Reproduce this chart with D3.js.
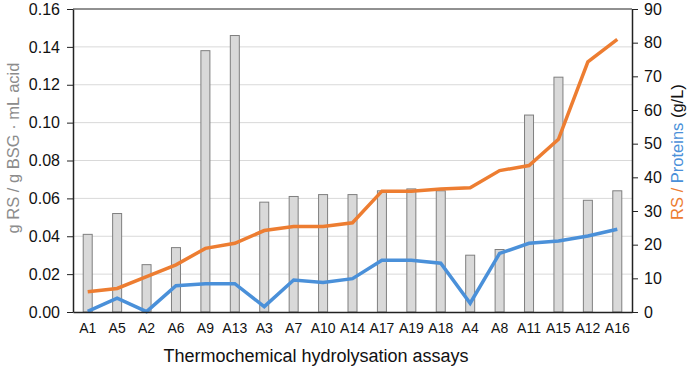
<!DOCTYPE html>
<html>
<head>
<meta charset="utf-8">
<script src="https://cdn.jsdelivr.net/npm/d3@7"></script>
<style>
  body { margin: 0; background: #fff; }
  text { font-family: "Liberation Sans", Arial, sans-serif; }
</style>
</head>
<body>
<div id="container"></div>
<script>
// assays in the order shown on the x axis
let assays = ["A1", "A5", "A2", "A6", "A9", "A13", "A3", "A7", "A10", "A14",
              "A17", "A19", "A18", "A4", "A8", "A11", "A15", "A12", "A16"];
// bars: g RS / g BSG · mL acid (left axis)
let yieldValues = [0.041, 0.052, 0.025, 0.034, 0.138, 0.146, 0.058, 0.061, 0.062, 0.062,
                   0.064, 0.065, 0.064, 0.030, 0.033, 0.104, 0.124, 0.059, 0.064];
// lines: g/L (right axis)
let rsValues = [6, 7, 10.5, 14, 18.9, 20.4, 24.2, 25.4, 25.4, 26.5,
                35.9, 35.9, 36.5, 36.9, 42, 43.5, 51.3, 74.3, 81];
let proteinValues = [0.2, 4.1, 0.1, 7.8, 8.4, 8.4, 1.6, 9.5, 8.8, 9.9,
                     15.4, 15.4, 14.5, 2.6, 17.4, 20.4, 21.1, 22.6, 24.6];
let leftTicks = [0, 0.02, 0.04, 0.06, 0.08, 0.10, 0.12, 0.14, 0.16];
let rightTicks = [0, 10, 20, 30, 40, 50, 60, 70, 80, 90];

let w = 692;
let h = 370;
let padL = 73, padR = 632, padT = 9, padB = 312;

let viz = d3.select('#container')
    .append('svg')
    .attr('width', w)
    .attr('height', h);

let xScale = d3.scaleBand().domain(assays).range([padL, padR]);
let yLeft = d3.scaleLinear().domain([0, 0.16]).range([padB, padT]);
let yRight = d3.scaleLinear().domain([0, 90]).range([padB, padT]);

// gridlines
viz.append('g')
    .selectAll('line')
    .data(leftTicks.slice(1, -1))
    .enter()
    .append('line')
    .attr('x1', padL).attr('x2', padR)
    .attr('y1', d => yLeft(d)).attr('y2', d => yLeft(d))
    .attr('stroke', '#d9d9d9')
    .attr('stroke-width', 1);

// top frame line
viz.append('line')
    .attr('x1', padL).attr('x2', padR)
    .attr('y1', padT).attr('y2', padT)
    .attr('stroke', '#222').attr('stroke-width', 1);

// bars
let barW = 9;
viz.append('g')
    .selectAll('rect')
    .data(assays)
    .enter()
    .append('rect')
    .attr('x', d => xScale(d) + xScale.bandwidth() / 2 - barW / 2)
    .attr('width', barW)
    .attr('y', (d, i) => yLeft(yieldValues[i]))
    .attr('height', (d, i) => padB - yLeft(yieldValues[i]))
    .attr('fill', '#d9d9d9')
    .attr('stroke', '#7f7f7f')
    .attr('stroke-width', 1);

// lines
let cx = d => xScale(d) + xScale.bandwidth() / 2;
let lineGen = vals => d3.line()
    .x(d => cx(d))
    .y((d, i) => yRight(vals[i]))(assays);

viz.append('path')
    .attr('d', lineGen(proteinValues))
    .attr('fill', 'none')
    .attr('stroke', '#4a90d9')
    .attr('stroke-width', 3.5);

viz.append('path')
    .attr('d', lineGen(rsValues))
    .attr('fill', 'none')
    .attr('stroke', '#ed7d31')
    .attr('stroke-width', 3.5);

// axes
let leftAxis = d3.axisLeft(yLeft).tickValues(leftTicks).tickFormat(d3.format('.2f')).tickSize(6).tickSizeOuter(0);
let leftG = viz.append('g').attr('transform', `translate(${padL},0)`).call(leftAxis);
leftG.selectAll('text').attr('font-size', 16).attr('fill', '#111').attr('x', -13);

let rightAxis = d3.axisRight(yRight).tickValues(rightTicks).tickSize(6).tickSizeOuter(0);
let rightG = viz.append('g').attr('transform', `translate(${padR},0)`).call(rightAxis);
rightG.selectAll('text').attr('font-size', 16).attr('fill', '#111').attr('x', 12);

let xAxis = d3.axisBottom(xScale).tickSize(0).tickSizeOuter(0);
let xG = viz.append('g').attr('transform', `translate(0,${padB})`).call(xAxis);
xG.selectAll('text').attr('font-size', 14).attr('fill', '#111').attr('y', 11);

viz.selectAll('.domain').attr('stroke', '#222').attr('stroke-width', 1.5);
viz.selectAll('.tick line').attr('stroke', '#222');

// axis titles
viz.append('text')
    .attr('x', 316)
    .attr('y', 362)
    .attr('text-anchor', 'middle')
    .attr('font-size', 18)
    .attr('fill', '#111')
    .text('Thermochemical hydrolysation assays');

viz.append('text')
    .attr('transform', `translate(19,148) rotate(-90)`)
    .attr('text-anchor', 'middle')
    .attr('font-size', 16.5)
    .attr('fill', '#8c8c8c')
    .text('g RS / g BSG · mL acid');

let rt = viz.append('text')
    .attr('transform', `translate(683,152) rotate(-90)`)
    .attr('text-anchor', 'middle')
    .attr('font-size', 16.5);
rt.append('tspan').attr('fill', '#ed7d31').text('RS / ');
rt.append('tspan').attr('fill', '#4a90d9').text('Proteins ');
rt.append('tspan').attr('fill', '#111').text('(g/L)');
</script>
</body>
</html>
